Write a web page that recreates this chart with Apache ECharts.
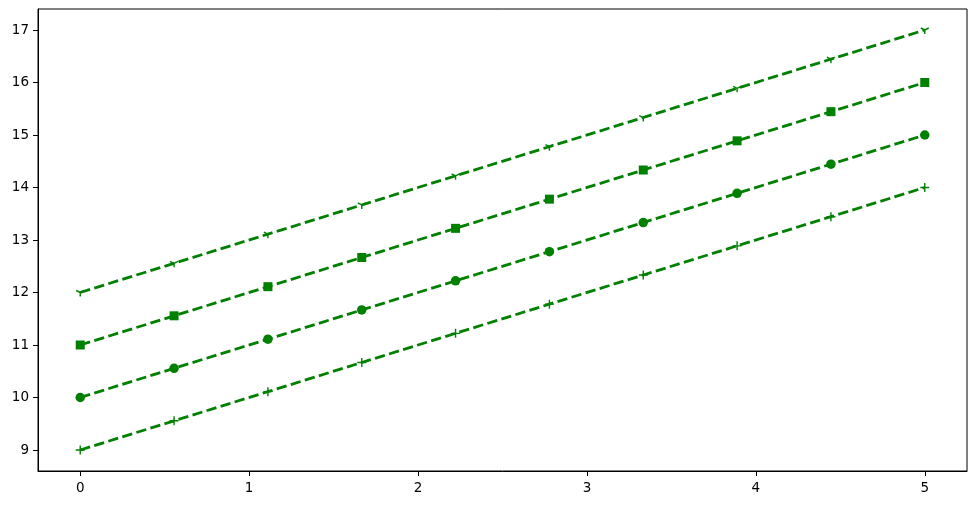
<!DOCTYPE html>
<html>
<head>
<meta charset="utf-8">
<script src="https://cdn.jsdelivr.net/npm/echarts@6/dist/echarts.min.js"></script>
<style>html,body{margin:0;padding:0;background:#fff}#c{width:977px;height:505px}</style>
</head>
<body>
<div id="c"></div>
<script>
const xValues = [0, 0.5556, 1.1111, 1.6667, 2.2222, 2.7778, 3.3333, 3.8889, 4.4444, 5];
const plusValues = [9, 9.556, 10.111, 10.667, 11.222, 11.778, 12.333, 12.889, 13.444, 14];
const circleValues = [10, 10.556, 11.111, 11.667, 12.222, 12.778, 13.333, 13.889, 14.444, 15];
const squareValues = [11, 11.556, 12.111, 12.667, 13.222, 13.778, 14.333, 14.889, 15.444, 16];
const triValues = [12, 12.556, 13.111, 13.667, 14.222, 14.778, 15.333, 15.889, 16.444, 17];
const xTicks = [0, 1, 2, 3, 4, 5];
const yTicks = [9, 10, 11, 12, 13, 14, 15, 16, 17];

const GREEN = '#008000';
const pairs = v => xValues.map((x, i) => [x, v[i]]);
const lineStyle = { color: GREEN, width: 2.8, type: [10.3, 4.4] };
function mk(data, symbol, size, itemStyle) {
  return {
    type: 'line', data: pairs(data), symbol: symbol, symbolSize: size,
    showSymbol: true, lineStyle: lineStyle, itemStyle: itemStyle,
    emphasis: { disabled: true }, animation: false, z: 2
  };
}
const font = { fontFamily: 'DejaVu Sans', fontSize: 13.5, color: '#000' };
const chart = echarts.init(document.getElementById('c'));
chart.setOption({
  backgroundColor: '#fff',
  animation: false,
  grid: { left: 38, right: 10, top: 9, bottom: 34, show: true, borderColor: '#000', borderWidth: 1, backgroundColor: 'transparent' },
  xAxis: {
    type: 'value', min: -0.25, max: 5.25,
    splitLine: { show: false },
    axisLine: { show: true, onZero: false, lineStyle: { color: '#000', width: 1 } },
    axisTick: { show: true, customValues: xTicks, length: 5, lineStyle: { color: '#000' } },
    axisLabel: Object.assign({ customValues: xTicks, margin: 10, formatter: v => String(v) }, font)
  },
  yAxis: {
    type: 'value', min: 8.6, max: 17.4,
    splitLine: { show: false },
    axisLine: { show: true, onZero: false, lineStyle: { color: '#000', width: 1 } },
    axisTick: { show: true, customValues: yTicks, length: 5, lineStyle: { color: '#000' } },
    axisLabel: Object.assign({ customValues: yTicks, margin: 9, formatter: v => String(v) }, font)
  },
  series: [
    mk(plusValues, 'path://M0,-1 L0,1 M-1,0 L1,0', 9, { color: 'transparent', borderColor: GREEN, borderWidth: 1.4 }),
    mk(circleValues, 'circle', 9.5, { color: GREEN, borderWidth: 0 }),
    mk(squareValues, 'rect', 9, { color: GREEN, borderWidth: 0 }),
    mk(triValues, 'path://M0,-1 L0,-1 M0,0 L0,1 M0,0 L-0.866,-0.5 M0,0 L0.866,-0.5', 8, { color: 'transparent', borderColor: GREEN, borderWidth: 1.4 })
  ]
});
</script>
</body>
</html>
